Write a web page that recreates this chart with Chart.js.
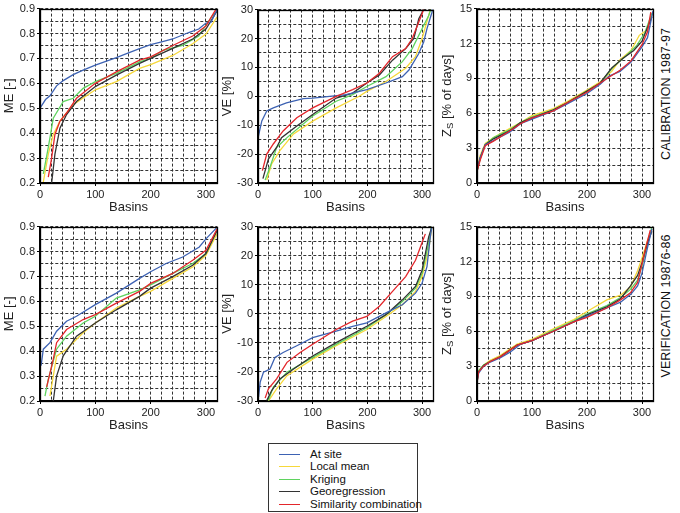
<!DOCTYPE html>
<html><head><meta charset="utf-8">
<script src="https://cdn.jsdelivr.net/npm/chart.js@4"></script>
<style>
body{margin:0;background:#fff;width:680px;height:513px;position:relative;overflow:hidden;font-family:"Liberation Sans",Arial,sans-serif;}
canvas{position:absolute;}
.side{position:absolute;font-size:12.5px;color:#111;white-space:nowrap;transform:translate(-50%,-50%) rotate(-90deg);}
#legend{position:absolute;left:268px;top:443px;width:150px;height:69px;border:1px solid #333;box-sizing:border-box;font-size:11.5px;color:#111;}
#legend .row{position:absolute;left:0;height:12px;line-height:12px;}
#legend .ln{position:absolute;left:10px;top:6px;width:21px;height:0;border-top:1.5px solid;}
#legend .tx{position:absolute;left:41px;top:0;white-space:nowrap;}
</style></head><body>
<div id="legend"></div>
<div class="side" style="left:666px;top:94px;">CALIBRATION 1987-97</div>
<div class="side" style="left:666px;top:306px;">VERIFICATION 19876-86</div>
<script>
// ---- Data (basin rank, value) ----
const seriesNames = ['At site','Local mean','Kriging','Georegression','Similarity combination'];
const seriesColors = ['#3d62b3','#f6d83a','#5fd35f','#333333','#e3262b'];
const xTickLabels = [0,100,200,300];

// Calibration ME
const calME_atSite = [[0,0.50],[10,0.535],[18,0.55],[30,0.59],[42,0.611],[60,0.635],[78,0.653],[100,0.673],[138,0.703],[160,0.722],[180,0.739],[200,0.755],[220,0.766],[240,0.778],[270,0.805],[287,0.818],[300,0.842],[309,0.845],[320,0.897]];
const calME_localMean = [[6,0.204],[15,0.316],[24,0.395],[36,0.448],[60,0.514],[100,0.574],[138,0.607],[180,0.66],[200,0.675],[240,0.712],[276,0.759],[300,0.798],[320,0.866]];
const calME_kriging = [[6,0.237],[15,0.343],[24,0.46],[42,0.527],[60,0.54],[78,0.58],[100,0.607],[138,0.64],[180,0.686],[200,0.70],[222,0.732],[258,0.752],[287,0.79],[311,0.87],[320,0.89]];
const calME_georegression = [[21,0.2],[27,0.316],[36,0.42],[48,0.475],[66,0.527],[100,0.587],[138,0.633],[180,0.68],[200,0.70],[240,0.74],[276,0.778],[300,0.818],[320,0.89]];
const calME_similarity = [[15,0.224],[21,0.30],[27,0.395],[36,0.448],[48,0.481],[66,0.54],[100,0.60],[138,0.646],[180,0.693],[200,0.706],[240,0.752],[276,0.79],[300,0.83],[318,0.897]];

// Calibration VE
const calVE_atSite = [[0,-14.5],[4,-11],[7,-8.5],[16,-5.1],[28,-4],[52,-2.3],[83,-0.8],[100,-0.6],[131,0],[161,0.6],[199,2.3],[234,4.6],[264,6.8],[276,9.1],[294,14.8],[303,18.8],[309,23.4],[318,29],[320,31]];
const calVE_localMean = [[16,-29],[25,-23.4],[40,-18.8],[65,-13],[100,-8.6],[143,-4],[185,0],[199,1.7],[234,5.1],[270,9.7],[288,13.7],[300,20],[312,27.9],[315,30]];
const calVE_kriging = [[13,-29],[22,-24.5],[34,-17.7],[53,-14.3],[100,-6.8],[143,-1.7],[173,0.6],[199,3.4],[234,6.8],[264,12],[282,16.5],[300,23.4],[312,27.9],[316,30]];
const calVE_georegression = [[9,-28.5],[19,-21.7],[34,-17.7],[43,-14.3],[71,-10.3],[100,-6.3],[143,-0.6],[173,1.1],[199,4.6],[222,7.4],[246,12.5],[270,16.5],[285,20],[294,26.8],[300,29],[302,30]];
const calVE_similarity = [[8,-25.7],[16,-20],[28,-16.5],[46,-12],[71,-7.4],[100,-4],[143,0],[173,2.3],[199,4.6],[222,8],[246,13.7],[270,16.5],[282,20],[294,25.7],[303,30]];

// Calibration Zs
const calZS_atSite = [[0,1.1],[6,2.2],[15,3.3],[24,3.5],[40,3.9],[60,4.4],[79,5.1],[100,5.5],[139,6.2],[164,6.8],[200,7.7],[224,8.5],[240,9.2],[260,9.6],[280,10.4],[300,11.7],[310,12.5],[320,14.8]];
const calZS_localMean = [[0,1.2],[6,2.4],[15,3.4],[30,3.9],[60,4.7],[79,5.2],[100,5.8],[139,6.4],[164,7.0],[200,8.0],[224,8.7],[245,9.6],[260,10.6],[280,11.4],[295,12.7],[310,13.2],[318,14.5]];
const calZS_kriging = [[0,1.0],[6,2.1],[15,3.3],[30,3.9],[60,4.6],[79,5.2],[100,5.7],[139,6.3],[164,6.9],[200,7.9],[224,8.6],[248,10.0],[270,10.9],[290,11.8],[305,12.9],[318,14.6]];
const calZS_georegression = [[0,1.0],[6,2.2],[15,3.3],[30,3.8],[60,4.5],[79,5.2],[100,5.6],[139,6.3],[164,6.9],[200,7.9],[224,8.6],[245,9.9],[265,10.7],[285,11.4],[300,12.2],[318,14.3]];
const calZS_similarity = [[0,1.0],[6,2.0],[15,3.2],[30,3.6],[60,4.5],[79,5.1],[100,5.6],[139,6.2],[164,6.9],[200,7.8],[224,8.6],[240,9.1],[260,9.7],[280,10.5],[300,11.9],[310,13.0],[316,14.7]];

// Verification ME
const verME_atSite = [[2,0.342],[6,0.408],[18,0.434],[30,0.48],[48,0.52],[66,0.54],[100,0.587],[138,0.633],[180,0.692],[200,0.719],[228,0.752],[258,0.778],[288,0.818],[300,0.851],[320,0.897]];
const verME_localMean = [[18,0.22],[30,0.38],[48,0.408],[78,0.474],[100,0.513],[138,0.573],[180,0.62],[200,0.64],[240,0.692],[276,0.738],[300,0.785],[320,0.871]];
const verME_kriging = [[9,0.22],[15,0.288],[30,0.408],[48,0.46],[78,0.513],[100,0.54],[138,0.613],[180,0.646],[200,0.666],[240,0.712],[276,0.752],[300,0.792],[320,0.884]];
const verME_georegression = [[24,0.2],[30,0.30],[42,0.381],[66,0.46],[100,0.513],[138,0.566],[180,0.62],[200,0.653],[240,0.699],[276,0.745],[300,0.792],[320,0.884]];
const verME_similarity = [[12,0.256],[24,0.368],[30,0.434],[48,0.487],[78,0.527],[100,0.547],[138,0.593],[180,0.64],[200,0.672],[240,0.712],[276,0.765],[300,0.805],[320,0.89]];

// Verification VE
const verVE_atSite = [[1,-28.6],[4,-23.5],[10,-20.1],[22,-19],[31,-15],[46,-13.3],[71,-11],[100,-8.2],[143,-6],[173,-4.3],[199,-3.1],[234,0.3],[264,3.1],[288,7.1],[300,10.5],[309,16.2],[315,26.4],[318,30]];
const verVE_localMean = [[19,-30],[34,-25.8],[53,-21.3],[100,-15.6],[143,-11],[199,-5.4],[234,-0.9],[264,3.1],[288,7.7],[300,12.8],[312,21.8],[318,30]];
const verVE_kriging = [[19,-29.8],[28,-25.2],[53,-20.1],[100,-15],[143,-10.5],[199,-4.8],[234,-0.3],[264,4.2],[288,8.8],[300,13.9],[312,24.1],[317,30]];
const verVE_georegression = [[16,-29.8],[25,-26.4],[40,-22.4],[65,-19],[100,-14.5],[143,-9.9],[199,-4.3],[234,-0.3],[264,4.8],[288,9.4],[300,15],[312,26.4],[318,30]];
const verVE_similarity = [[13,-29],[19,-25.8],[34,-22.4],[53,-16.7],[77,-13.3],[100,-10.5],[143,-5.4],[173,-2.5],[199,-0.9],[222,2.6],[246,7.7],[270,12.8],[288,18.4],[297,23],[306,27.5]];

// Verification Zs
const verZS_atSite = [[0,1.6],[3,2.4],[12,3.0],[24,3.35],[42,3.7],[60,4.2],[80,4.9],[100,5.2],[139,6.0],[176,6.8],[200,7.3],[236,8.0],[261,8.5],[280,9.2],[292,9.9],[300,11.0],[310,13.2],[318,14.8]];
const verZS_localMean = [[0,1.5],[3,2.6],[12,3.1],[24,3.5],[42,3.9],[73,4.9],[100,5.3],[139,6.2],[176,7.0],[200,7.7],[236,8.7],[261,9.1],[279,9.8],[292,11.2],[300,12.3],[310,13.8],[318,14.8]];
const verZS_kriging = [[0,1.8],[3,2.6],[12,3.1],[24,3.4],[42,3.8],[73,4.8],[100,5.2],[139,6.1],[176,6.9],[200,7.5],[236,8.2],[261,8.9],[279,9.6],[292,10.4],[300,11.6],[310,13.5],[318,15.0]];
const verZS_georegression = [[0,1.7],[3,2.5],[12,3.05],[24,3.4],[42,3.8],[73,4.8],[100,5.2],[139,6.0],[176,6.8],[200,7.4],[236,8.1],[261,8.8],[279,9.9],[292,10.8],[300,11.9],[310,13.6],[318,14.6]];
const verZS_similarity = [[0,1.6],[3,2.5],[12,3.0],[24,3.4],[42,3.8],[73,4.8],[100,5.2],[139,6.0],[176,6.8],[200,7.2],[236,8.0],[261,8.7],[279,9.3],[292,10.2],[300,11.8],[308,13.4],[315,14.7]];

// ---- Panels ----
const FONT = '"Liberation Sans", Arial, sans-serif';
const panels = [
  {left:40, top:6, right:217, bottom:183, yMin:0.2, yMax:0.9, yStep:0.05, yLabelEvery:0.1, dec:1, title:'ME [-]', series:[calME_atSite,calME_localMean,calME_kriging,calME_georegression,calME_similarity]},
  {left:258, top:7, right:433, bottom:183, yMin:-30, yMax:30, yStep:5, yLabelEvery:10, dec:0, title:'VE [%]', series:[calVE_atSite,calVE_localMean,calVE_kriging,calVE_georegression,calVE_similarity]},
  {left:477, top:6, right:653, bottom:183, yMin:0, yMax:15, yStep:1.5, yLabelEvery:3, dec:0, title:'ZS', series:[calZS_atSite,calZS_localMean,calZS_kriging,calZS_georegression,calZS_similarity]},
  {left:40, top:224, right:217, bottom:401, yMin:0.2, yMax:0.9, yStep:0.05, yLabelEvery:0.1, dec:1, title:'ME [-]', series:[verME_atSite,verME_localMean,verME_kriging,verME_georegression,verME_similarity]},
  {left:258, top:224, right:433, bottom:401, yMin:-30, yMax:30, yStep:5, yLabelEvery:10, dec:0, title:'VE [%]', series:[verVE_atSite,verVE_localMean,verVE_kriging,verVE_georegression,verVE_similarity]},
  {left:477, top:224, right:653, bottom:401, yMin:0, yMax:15, yStep:1.5, yLabelEvery:3, dec:0, title:'ZS', series:[verZS_atSite,verZS_localMean,verZS_kriging,verZS_georegression,verZS_similarity]},
];

const YW = 40, XH = 34, PT = 6, PR = 6;

const boxPlugin = {
  id:'box',
  afterDatasetsDraw(chart){
    const a = chart.chartArea, c = chart.ctx;
    c.save(); c.strokeStyle='#000'; c.lineWidth=1.3;
    c.strokeRect(Math.round(a.left)+0.5, Math.round(a.top)+0.5, Math.round(a.right-a.left), Math.round(a.bottom-a.top));
    c.restore();
  },
  afterDraw(chart){
    const p = chart.options.plugins.box;
    if(!p || !p.zs) return;
    const a = chart.chartArea, c = chart.ctx;
    c.save();
    c.translate(10, (a.top+a.bottom)/2);
    c.rotate(-Math.PI/2);
    c.fillStyle='#222';
    c.textBaseline='middle';
    const big = '13px '+FONT, small='9.5px '+FONT;
    c.font = big; const wZ = c.measureText('Z').width;
    c.font = small; const wS = c.measureText('S').width;
    c.font = big; const rest = ' [% of days]'; const wR = c.measureText(rest).width;
    let x = -(wZ+wS+wR)/2;
    c.textAlign='left';
    c.font = big; c.fillText('Z', x, 0); x += wZ;
    c.font = small; c.fillText('S', x, 3); x += wS;
    c.font = big; c.fillText(rest, x, 0);
    c.restore();
  }
};

panels.forEach((p)=>{
  const cv = document.createElement('canvas');
  const w = (p.right-p.left) + YW + PR;
  const h = (p.bottom-p.top) + PT + XH;
  cv.width = w; cv.height = h;
  cv.style.left = (p.left - YW) + 'px';
  cv.style.top = (p.top - PT) + 'px';
  cv.style.width = w+'px'; cv.style.height = h+'px';
  document.body.appendChild(cv);
  const isZ = p.title === 'ZS';
  new Chart(cv, {
    type:'line',
    data:{datasets: p.series.map((s,i)=>({
      label: seriesNames[i],
      data: s.map(d=>({x:d[0], y:d[1]})),
      borderColor: seriesColors[i],
      backgroundColor: seriesColors[i],
      borderWidth: 1.3,
      pointRadius: 0,
      tension: 0,
      fill: false,
      order: [1,4,3,2,0][i]
    }))},
    options:{
      responsive:false, animation:false, devicePixelRatio:1,
      layout:{padding:{top:PT,right:PR,left:0,bottom:0}},
      plugins:{legend:{display:false}, tooltip:{enabled:false}, box:{zs:isZ}},
      scales:{
        x:{type:'linear', min:0, max:320,
          afterBuildTicks: sc => { const t=[]; for(let v=0; v<=320; v+=20) t.push({value:v}); sc.ticks=t; },
          ticks:{autoSkip:false, maxRotation:0, padding:2, color:'#222', font:{family:FONT,size:11},
            callback: v => (xTickLabels.includes(v) ? String(v) : '')},
          grid:{color:'#333', lineWidth:1, drawTicks:true, tickLength:3,
            tickColor: ctx => (ctx.tick && xTickLabels.includes(ctx.tick.value)) ? '#000' : 'rgba(0,0,0,0)'},
          border:{display:true, color:'#000', width:1.3, dash:[3,2]},
          title:{display:true, text:'Basins', color:'#222', font:{family:FONT,size:13}, padding:{top:0,bottom:2}},
          afterFit: sc => { sc.height = XH; }
        },
        y:{type:'linear', min:p.yMin, max:p.yMax,
          afterBuildTicks: sc => { const t=[]; const n=Math.round((p.yMax-p.yMin)/p.yStep); for(let k=0;k<=n;k++) t.push({value: +(p.yMin + k*p.yStep).toFixed(3)}); sc.ticks=t; },
          ticks:{autoSkip:false, padding:2, color:'#222', font:{family:FONT,size:11},
            callback: v => { const r = v/p.yLabelEvery; return Math.abs(r-Math.round(r))<1e-6 ? v.toFixed(p.dec) : ''; }},
          grid:{color:'#333', lineWidth:1, drawTicks:true, tickLength:3,
            tickColor: ctx => { if(!ctx.tick) return 'rgba(0,0,0,0)'; const r=ctx.tick.value/p.yLabelEvery; return Math.abs(r-Math.round(r))<1e-6 ? '#000' : 'rgba(0,0,0,0)'; }},
          border:{display:true, color:'#000', width:1.3, dash:[3,2]},
          title:{display:!isZ, text:p.title, color:'#222', font:{family:FONT,size:13}, padding:{top:2,bottom:2}},
          afterFit: sc => { sc.width = YW; }
        }
      }
    },
    plugins:[boxPlugin]
  });
});

// Legend
const lg = document.getElementById('legend');
seriesNames.forEach((n,i)=>{
  const r = document.createElement('div');
  r.className='row'; r.style.top = (4 + i*12.4)+'px'; r.style.width='145px';
  r.innerHTML = '<span class="ln" style="border-color:'+seriesColors[i]+'"></span><span class="tx">'+n+'</span>';
  lg.appendChild(r);
});
</script>
</body></html>
